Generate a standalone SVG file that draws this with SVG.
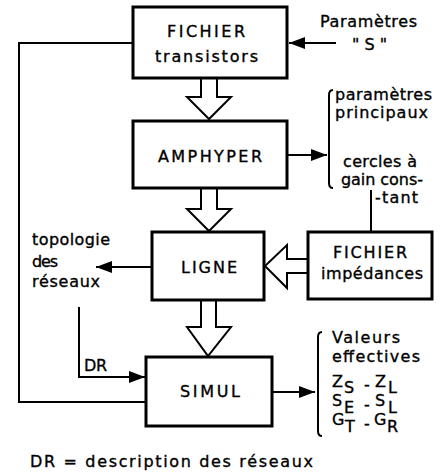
<svg xmlns="http://www.w3.org/2000/svg" width="447" height="474" viewBox="0 0 447 474">
<style>
.box{fill:#fff;stroke:#000;stroke-width:3}
.ln{fill:none;stroke:#000;stroke-width:2}
.hol{fill:#fff;stroke:#000;stroke-width:2;stroke-linejoin:miter}
.t{font-family:"DejaVu Sans","Liberation Sans",sans-serif;font-size:16px;fill:#000;stroke:#000;stroke-width:0.35}
</style>
<defs>
<marker id="ah" viewBox="0 0 16 12" refX="16" refY="6" markerWidth="16" markerHeight="12" markerUnits="userSpaceOnUse" orient="auto">
<path d="M0,0 L16,6 L0,12 Z" fill="#000"/>
</marker>
</defs>
<rect width="447" height="474" fill="#fff"/>

<g id="connectors">
<path class="ln" d="M133,43 H19 V402 H146"/>
<path class="ln" d="M336,43 H289" marker-end="url(#ah)"/>
<path class="ln" d="M287,155 H327" marker-end="url(#ah)"/>
<path class="ln" d="M152,267 H96" marker-end="url(#ah)"/>
<path class="ln" d="M79,307 V377 H145" marker-end="url(#ah)"/>
<path class="ln" d="M272,392 H315" marker-end="url(#ah)"/>
<path class="ln" d="M371,190 V232"/>
<path class="hol" d="M201,78 V97 H187 L209,119 L231,97 H217 V78"/>
<path class="hol" d="M201,188 V209 H187 L209,231 L231,209 H217 V188"/>
<path class="hol" d="M201,300 V327 H187 L208,356 L231,327 H216 V300"/>
<path class="hol" d="M308,259 H287 V245 L265,266 L287,288 V273 H308"/>
<path class="ln" d="M333,90 Q329,90 329,95 V183 Q329,188 333,188"/>
<path class="ln" d="M322,332 Q318,332 318,337 V431 Q318,436 322,436"/>
</g>

<g id="fichier-transistors">
<rect class="box" x="133" y="7" width="154" height="71"/>
<text class="t" x="167" y="37" textLength="78" lengthAdjust="spacing">FICHIER</text>
<text class="t" x="155" y="62" textLength="103" lengthAdjust="spacing">transistors</text>
</g>

<g id="amphyper">
<rect class="box" x="133" y="121" width="154" height="67"/>
<text class="t" x="158" y="162" textLength="104" lengthAdjust="spacing">AMPHYPER</text>
</g>

<g id="ligne">
<rect class="box" x="152" y="232" width="112" height="68"/>
<text class="t" x="181" y="273" textLength="56" lengthAdjust="spacing">LIGNE</text>
</g>

<g id="fichier-impedances">
<rect class="box" x="308" y="232" width="124" height="67"/>
<text class="t" x="333" y="258" textLength="74" lengthAdjust="spacing">FICHIER</text>
<text class="t" x="321" y="279" textLength="102" lengthAdjust="spacing">impédances</text>
</g>

<g id="simul">
<rect class="box" x="146" y="357" width="126" height="69"/>
<text class="t" x="180" y="397" textLength="60" lengthAdjust="spacing">SIMUL</text>
</g>

<g id="parametres-s">
<text class="t" x="320" y="27" textLength="97" lengthAdjust="spacing">Paramètres</text>
<text class="t" x="352" y="50" textLength="35" lengthAdjust="spacing">" S "</text>
</g>

<g id="sorties-amphyper">
<text class="t" x="335" y="100" textLength="97" lengthAdjust="spacing">paramètres</text>
<text class="t" x="335" y="118" textLength="93" lengthAdjust="spacing">principaux</text>
<text class="t" x="343" y="167" textLength="74" lengthAdjust="spacing">cercles à</text>
<text class="t" x="341" y="185" textLength="82" lengthAdjust="spacing">gain cons-</text>
<text class="t" x="375" y="203" textLength="43" lengthAdjust="spacing">-tant</text>
</g>

<g id="topologie">
<text class="t" x="32" y="245" textLength="78" lengthAdjust="spacing">topologie</text>
<text class="t" x="32" y="267" textLength="26" lengthAdjust="spacing">des</text>
<text class="t" x="32" y="287" textLength="68" lengthAdjust="spacing">réseaux</text>
<text class="t" x="84" y="371" textLength="23" lengthAdjust="spacing">DR</text>
</g>

<g id="valeurs">
<text class="t" x="332" y="343" textLength="68" lengthAdjust="spacing">Valeurs</text>
<text class="t" x="332" y="362" textLength="88" lengthAdjust="spacing">effectives</text>
<text class="t" x="332" y="387">Z</text><text class="t" x="344" y="393">S</text>
<text class="t" x="364" y="390">-</text>
<text class="t" x="375" y="387">Z</text><text class="t" x="388" y="393">L</text>
<text class="t" x="332" y="406">S</text><text class="t" x="344" y="413">E</text>
<text class="t" x="364" y="410">-</text>
<text class="t" x="375" y="406">S</text><text class="t" x="388" y="413">L</text>
<text class="t" x="332" y="425">G</text><text class="t" x="345" y="432">T</text>
<text class="t" x="364" y="429">-</text>
<text class="t" x="374" y="425">G</text><text class="t" x="387" y="432">R</text>
</g>

<g id="legende">
<text class="t" x="30" y="467" textLength="283" lengthAdjust="spacing">DR = description des réseaux</text>
</g>
</svg>
